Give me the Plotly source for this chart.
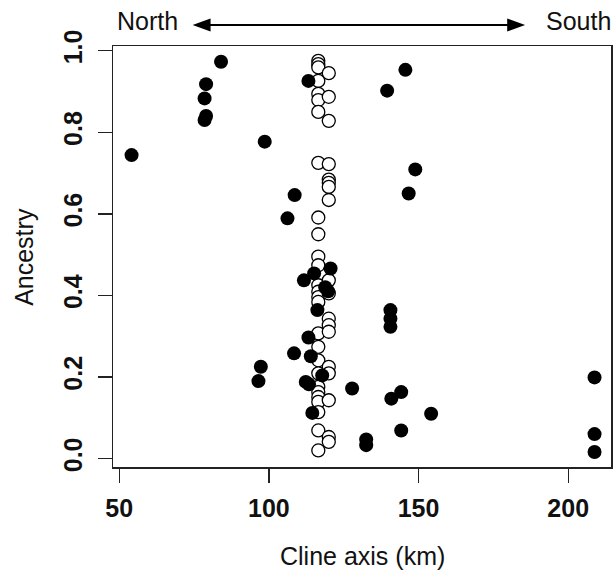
import plotly.graph_objects as go

# ---- data ----
open_x = [116.5]*27 + [120.0]*18
open_y = [0.975, 0.967, 0.959, 0.926, 0.894, 0.879, 0.850, 0.725, 0.591, 0.550,
          0.495, 0.474, 0.425, 0.409, 0.396, 0.384, 0.307, 0.274, 0.241, 0.209,
          0.176, 0.163, 0.151, 0.139, 0.114, 0.069, 0.020,
          0.945, 0.887, 0.828, 0.722, 0.684, 0.676, 0.666, 0.634, 0.437, 0.405,
          0.343, 0.327, 0.311, 0.225, 0.209, 0.143, 0.053, 0.041]

filled_x = [84.0, 79.0, 78.5, 79.0, 78.5, 54.1, 98.6, 113.2, 145.6, 139.5,
            148.9, 146.7, 108.6, 106.2, 120.6, 115.1, 111.7, 118.8, 119.8, 116.2,
            140.6, 140.6, 140.6, 113.2, 108.4, 114.0, 97.3, 96.5, 117.8, 112.3,
            113.4, 127.8, 144.2, 140.9, 114.5, 154.2, 144.2, 132.5, 132.5, 208.8,
            208.8, 208.8]
filled_y = [0.973, 0.918, 0.883, 0.840, 0.830, 0.744, 0.777, 0.926, 0.953, 0.902,
            0.709, 0.650, 0.646, 0.589, 0.466, 0.454, 0.437, 0.420, 0.410, 0.364,
            0.364, 0.343, 0.323, 0.297, 0.258, 0.251, 0.225, 0.190, 0.204, 0.188,
            0.182, 0.172, 0.163, 0.147, 0.112, 0.110, 0.069, 0.047, 0.033, 0.199,
            0.060, 0.016]

x_ticks = [50, 100, 150, 200]
y_ticks = [0.0, 0.2, 0.4, 0.6, 0.8, 1.0]
y_tick_labels = ["0.0", "0.2", "0.4", "0.6", "0.8", "1.0"]
arrow_from, arrow_to = 74.5, 185.6   # km, North <-> South arrow

# ---- layout geometry ----
W, H = 614, 571
L, R, T, B = 113, 1, 46, 104
XR = [47.9, 214.3]
YR = [-0.0206, 1.0115]
FONT = "Liberation Sans, Arial, Helvetica, sans-serif"
FS = 25

def px_x(px):
    return (px - L) / (W - L - R)

def px_y(py):
    return (H - B - py) / (H - B - T)

def dx(v):
    return (v - XR[0]) / (XR[1] - XR[0])

fig = go.Figure()
fig.add_trace(go.Scatter(
    x=open_x, y=open_y, mode="markers",
    marker=dict(symbol="circle", size=13, color="white",
                line=dict(color="black", width=1.3)),
    hoverinfo="skip", showlegend=False))
fig.add_trace(go.Scatter(
    x=filled_x, y=filled_y, mode="markers",
    marker=dict(symbol="circle", size=14, color="black",
                line=dict(color="black", width=0)),
    hoverinfo="skip", showlegend=False))

axis_common = dict(showgrid=False, zeroline=False, showline=True, mirror=True,
                   linecolor="#222", linewidth=1.5, ticks="outside", ticklen=14,
                   tickwidth=1.3, tickcolor="#222",
                   tickfont=dict(family=FONT, size=FS, color="#111", weight="bold"))

fig.update_xaxes(range=XR, tickvals=x_ticks, ticktext=[str(v) for v in x_ticks],
                 ticklabelstandoff=4, **axis_common)
fig.update_yaxes(range=YR, tickvals=y_ticks, ticktext=y_tick_labels,
                 tickangle=-90, ticklabelstandoff=6, **axis_common)

ay = px_y(25)
head_len, head_half = 18 / (W - L - R), 6.5 / (H - B - T)
xl, xr = dx(arrow_from), dx(arrow_to)
shapes = [
    dict(type="line", xref="paper", yref="paper", x0=xl + head_len * 0.8, x1=xr - head_len * 0.8,
         y0=ay, y1=ay, line=dict(color="black", width=2)),
    dict(type="path", xref="paper", yref="paper", fillcolor="black", line=dict(width=0),
         path=f"M {xl} {ay} L {xl + head_len} {ay + head_half} L {xl + head_len} {ay - head_half} Z"),
    dict(type="path", xref="paper", yref="paper", fillcolor="black", line=dict(width=0),
         path=f"M {xr} {ay} L {xr - head_len} {ay + head_half} L {xr - head_len} {ay - head_half} Z"),
]

annotations = [
    dict(text="North", xref="paper", yref="paper", x=px_x(115), y=px_y(21.5),
         xanchor="left", yanchor="middle", showarrow=False,
         font=dict(family=FONT, size=FS, color="#111")),
    dict(text="South", xref="paper", yref="paper", x=px_x(546), y=px_y(21.5),
         xanchor="left", yanchor="middle", showarrow=False,
         font=dict(family=FONT, size=FS, color="#111")),
    dict(text="Cline axis (km)", xref="paper", yref="paper", x=0.5, y=px_y(556),
         xanchor="center", yanchor="middle", showarrow=False,
         font=dict(family=FONT, size=FS, color="#111")),
    dict(text="Ancestry", xref="paper", yref="paper", x=px_x(23), y=0.5,
         xanchor="center", yanchor="middle", showarrow=False, textangle=-90,
         font=dict(family=FONT, size=FS, color="#111")),
]

fig.update_layout(width=W, height=H, margin=dict(l=L, r=R, t=T, b=B, pad=0),
                  paper_bgcolor="white", plot_bgcolor="white",
                  shapes=shapes, annotations=annotations, showlegend=False)

fig.write_html("out.html",
               config={"displayModeBar": False, "staticPlot": True},
               post_script="document.body.style.margin='0';"
                           "document.body.style.padding='0';"
                           "document.body.style.overflow='hidden';")
